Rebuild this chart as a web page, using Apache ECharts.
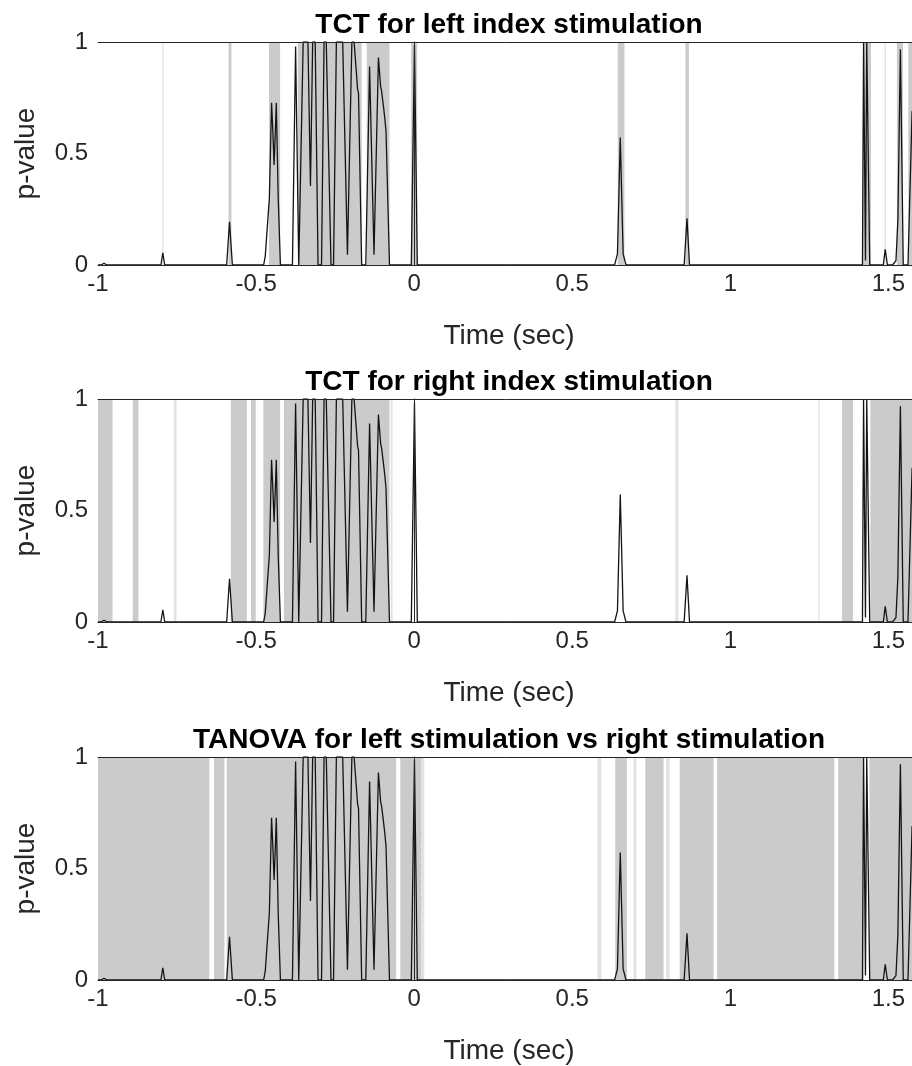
<!DOCTYPE html>
<html>
<head>
<meta charset="utf-8">
<script src="https://cdn.jsdelivr.net/npm/echarts@6/dist/echarts.min.js"></script>
<style>
  html, body { margin: 0; padding: 0; background: #fff; }
  #chart { width: 912px; height: 1066px; }
</style>
</head>
<body>
<div id="chart"></div>
<script>
// p-value curve (same trace in all three panels)
let timeSec = [
  -1.000, -0.990, -0.981, -0.972, -0.801, -0.795, -0.789, -0.593, -0.584, -0.575,
  -0.538, -0.532, -0.526, -0.476, -0.471, -0.466, -0.458, -0.451, -0.447, -0.443,
  -0.439, -0.436, -0.430, -0.423, -0.385, -0.375, -0.365, -0.360, -0.351, -0.336,
  -0.328, -0.321, -0.313, -0.304, -0.293, -0.285, -0.278, -0.263, -0.255, -0.246,
  -0.226, -0.211, -0.197, -0.190, -0.182, -0.179, -0.176, -0.166, -0.153, -0.141,
  -0.127, -0.113, -0.106, -0.103, -0.097, -0.093, -0.089, -0.078, -0.009, 0.001,
  0.010, 0.634, 0.643, 0.652, 0.661, 0.670, 0.752, 0.757, 0.762, 0.854,
  0.863, 0.871, 1.418, 1.4215, 1.4235, 1.4275, 1.4315, 1.436, 1.441, 1.484,
  1.490, 1.497, 1.513, 1.524, 1.530, 1.538, 1.547, 1.562, 1.575, 1.585,
  1.595, 1.600
];
let pValue = [
  0, 0, 0.008, 0, 0, 0.055, 0, 0, 0.194, 0,
  0, 0.006, 0, 0, 0.04, 0.035, 0.30, 0.728, 0.60, 0.448,
  0.60, 0.728, 0.30, 0, 0, 0.98, 0, 0, 1, 1,
  0.354, 1, 1, 0, 0, 1, 1, 0, 0, 1,
  1, 0.046, 1, 1, 0.85, 0.79, 0.77, 0, 0, 0.89,
  0.046, 0.93, 0.80, 0.78, 0.71, 0.66, 0.60, 0, 0, 0.985,
  0, 0, 0.05, 0.572, 0.05, 0, 0, 0.004, 0, 0,
  0.209, 0, 0, 1, 1, 0.02, 1, 1, 0, 0,
  0.07, 0, 0, 0.02, 0.2, 0.967, 0, 0, 0.69, 0.2,
  0, 0
];

// significant windows [start, end] in sec
let leftBands = [
  [-0.587, -0.578], [-0.459, -0.424], [-0.368, -0.166], [-0.150, -0.078],
  [-0.0095, 0.0095], [0.644, 0.665], [0.858, 0.869], [1.420, 1.445],
  [1.527, 1.546], [1.563, 1.600]
];
let leftFaint = [[-0.797, -0.793], [1.488, 1.492]];

let rightBands = [
  [-1.000, -0.954], [-0.890, -0.872], [-0.580, -0.529], [-0.516, -0.501],
  [-0.477, -0.424], [-0.412, -0.078], [1.353, 1.388], [1.443, 1.600]
];
let rightFaint = [[-0.760, -0.752], [-0.074, -0.068], [0.826, 0.836], [1.278, 1.282]];

let tanovaBands = [
  [-1.000, -0.648], [-0.633, -0.600], [-0.593, -0.057], [-0.044, 0.022],
  [0.636, 0.673], [0.731, 0.789], [0.840, 0.947], [0.958, 1.329],
  [1.341, 1.422], [1.440, 1.600]
];
let tanovaFaint = [[0.022, 0.032], [0.580, 0.592], [0.694, 0.703], [0.797, 0.808]];

let titles = [
  'TCT for left index stimulation',
  'TCT for right index stimulation',
  'TANOVA for left stimulation vs right stimulation'
];
let xTicks = [-1, -0.5, 0, 0.5, 1, 1.5];
let yTicks = [0, 0.5, 1];

let font = '"Liberation Sans", Arial, Helvetica, sans-serif';
let ink = '#262626';
let panels = [
  { bands: leftBands, faint: leftFaint },
  { bands: rightBands, faint: rightFaint },
  { bands: tanovaBands, faint: tanovaFaint }
];
let tops = [42, 399, 757];
let titleY = [25, 382, 740];

let curve = timeSec.map((t, k) => [t, pValue[k]]);

let bandSeries = (idx, data, color) => ({
  type: 'custom',
  xAxisIndex: idx * 2,
  yAxisIndex: idx,
  silent: true,
  clip: true,
  z: 1,
  data: data,
  renderItem: (params, api) => {
    let a = api.coord([api.value(0), 1]);
    let b = api.coord([api.value(1), 0]);
    return {
      type: 'rect',
      shape: { x: a[0], y: a[1], width: Math.max(b[0] - a[0], 1), height: b[1] - a[1] },
      style: { fill: color }
    };
  }
});

let grid = [], xAxis = [], yAxis = [], series = [], graphic = [];

panels.forEach((p, i) => {
  // box runs a little past the right edge of the picture (cropped like the original)
  grid.push({
    left: 98, top: tops[i], width: 822, height: 223,
    containLabel: false, outerBoundsMode: 'none'
  });
  xAxis.push({
    type: 'value', gridIndex: i, min: -1, max: 1.6, interval: 0.5, z: 10,
    axisLine: { show: true, onZero: false, lineStyle: { color: ink, width: 1 } },
    axisTick: { show: false },
    splitLine: { show: false },
    axisLabel: {
      fontSize: 24, color: ink, fontFamily: font, margin: 7,
      formatter: v => xTicks.some(t => Math.abs(t - v) < 1e-9) ? String(v) : ''
    },
    name: 'Time (sec)', nameLocation: 'middle', nameGap: 57,
    nameTextStyle: { fontSize: 28, color: ink, fontFamily: font }
  });
  // top border of the box
  xAxis.push({
    type: 'value', gridIndex: i, position: 'top', min: -1, max: 1.6, z: 10,
    axisLine: { show: true, onZero: false, lineStyle: { color: ink, width: 1 } },
    axisTick: { show: false }, axisLabel: { show: false }, splitLine: { show: false }
  });
  yAxis.push({
    type: 'value', gridIndex: i, min: 0, max: 1, interval: 0.5, z: 10,
    axisLine: { show: true, lineStyle: { color: ink, width: 1 } },
    axisTick: { show: false },
    splitLine: { show: false },
    axisLabel: {
      fontSize: 24, color: ink, fontFamily: font, margin: 10,
      formatter: v => yTicks.some(t => Math.abs(t - v) < 1e-9) ? String(v) : ''
    },
    name: 'p-value', nameLocation: 'middle', nameGap: 58,
    nameTextStyle: { fontSize: 28, color: ink, fontFamily: font }
  });
  series.push(bandSeries(i, p.faint, '#e2e2e2'));
  series.push(bandSeries(i, p.bands, '#cbcbcb'));
  series.push({
    type: 'line', xAxisIndex: i * 2, yAxisIndex: i, z: 3, silent: true,
    data: curve, showSymbol: false, symbol: 'none',
    lineStyle: { color: '#141414', width: 1.3 }
  });
  graphic.push({
    type: 'text', x: 509, y: titleY[i], z: 20,
    style: {
      text: titles[i], fill: '#000', font: 'bold 28px ' + font,
      align: 'center', verticalAlign: 'middle', textAlign: 'center', textVerticalAlign: 'middle'
    }
  });
});

let chart = echarts.init(document.getElementById('chart'), null, { renderer: 'canvas' });
chart.setOption({
  animation: false,
  backgroundColor: '#fff',
  grid, xAxis, yAxis, series, graphic
});
</script>
</body>
</html>
